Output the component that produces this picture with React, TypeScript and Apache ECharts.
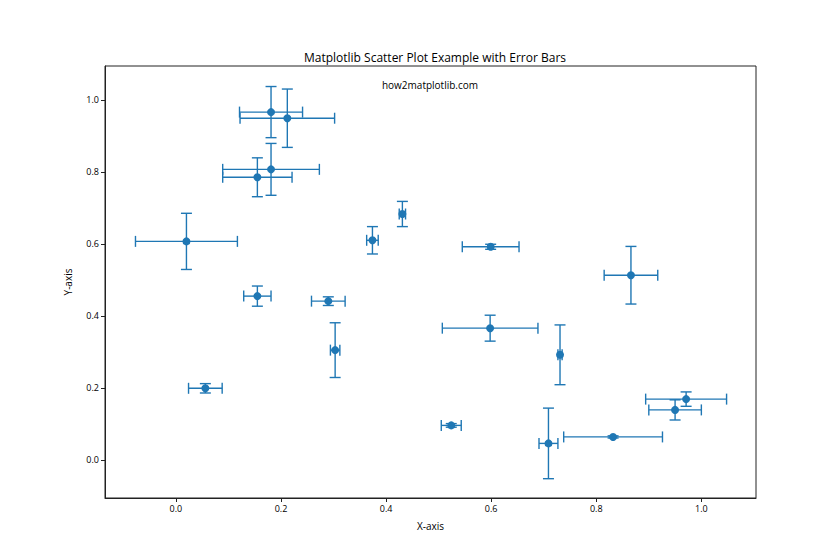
import React, { useEffect, useRef } from "react";
import * as echarts from "echarts";

const xValues = [0.181, 0.212, 0.181, 0.155, 0.020, 0.374, 0.431, 0.155, 0.290, 0.056, 0.303, 0.524, 0.599, 0.866, 0.598, 0.731, 0.971, 0.950, 0.832, 0.709];
const yValues = [0.966, 0.949, 0.807, 0.785, 0.607, 0.610, 0.683, 0.455, 0.441, 0.199, 0.305, 0.096, 0.592, 0.513, 0.366, 0.292, 0.169, 0.139, 0.064, 0.046];
const xErrors = [0.060, 0.090, 0.092, 0.066, 0.097, 0.011, 0.006, 0.026, 0.032, 0.032, 0.009, 0.019, 0.054, 0.051, 0.091, 0.004, 0.077, 0.050, 0.094, 0.018];
const yErrors = [0.071, 0.081, 0.072, 0.054, 0.078, 0.038, 0.035, 0.028, 0.012, 0.013, 0.076, 0.005, 0.007, 0.080, 0.036, 0.083, 0.020, 0.028, 0.003, 0.098];
const tickValues = [0, 0.2, 0.4, 0.6, 0.8, 1.0];

const COLOR = "#1f77b4";
const FONT = "'Open Sans', 'Noto Sans', sans-serif";

export default function App() {
  const ref = useRef<HTMLDivElement>(null);
  useEffect(() => {
    if (!ref.current) return;
    document.body.style.margin = "0";
    const chart = echarts.init(ref.current, null, { renderer: "svg" });
    const errData = xValues.map((x, i) => [x, yValues[i], xErrors[i], yErrors[i]]);
    const ptData = xValues.map((x, i) => [x, yValues[i]]);
    const cap = 5.5;
    const lineStyle = { stroke: COLOR, lineWidth: 1.4 };
    const axisCommon = {
      type: "value",
      nameLocation: "middle",
      nameTextStyle: { fontFamily: FONT, fontSize: 10, color: "#000" },
      splitLine: { show: false },
      axisLine: { show: true, onZero: false, lineStyle: { color: "#222", width: 1 } },
      axisTick: { show: true, inside: false, customValues: tickValues, length: 4, lineStyle: { color: "#222" } },
      axisLabel: {
        customValues: tickValues,
        formatter: (v: number) => v.toFixed(1),
        fontFamily: FONT,
        fontSize: 9,
        color: "#000",
        margin: 6,
      },
    };
    chart.setOption({
      animation: false,
      backgroundColor: "#fff",
      title: {
        text: "Matplotlib Scatter Plot Example with Error Bars",
        left: 430,
        top: 46,
        textAlign: "center",
        textStyle: { fontFamily: FONT, fontSize: 12, fontWeight: "normal", color: "#000" },
      },
      graphic: [
        {
          type: "text",
          x: 430,
          y: 85,
          style: {
            text: "how2matplotlib.com",
            fontFamily: FONT,
            fontSize: 10,
            fill: "#000",
            textAlign: "center",
            textVerticalAlign: "middle",
          },
        },
      ],
      grid: {
        left: 105,
        right: 84,
        top: 66,
        bottom: 62,
        show: true,
        borderColor: "#222",
        borderWidth: 1,
        backgroundColor: "transparent",
      },
      xAxis: {
        ...axisCommon,
        min: -0.135,
        max: 1.104,
        name: "X-axis",
        nameGap: 23,
      },
      yAxis: {
        ...axisCommon,
        min: -0.1056,
        max: 1.094,
        name: "Y-axis",
        nameGap: 32,
      },
      series: [
        {
          type: "custom",
          data: errData,
          encode: { x: 0, y: 1 },
          z: 2,
          renderItem: (params: any, api: any) => {
            const x = api.value(0);
            const y = api.value(1);
            const xe = api.value(2);
            const ye = api.value(3);
            const left = api.coord([x - xe, y]);
            const right = api.coord([x + xe, y]);
            const top = api.coord([x, y + ye]);
            const bottom = api.coord([x, y - ye]);
            const mk = (x1: number, y1: number, x2: number, y2: number) => ({
              type: "line",
              shape: { x1, y1, x2, y2 },
              style: lineStyle,
            });
            return {
              type: "group",
              children: [
                mk(left[0], left[1], right[0], right[1]),
                mk(top[0], top[1], bottom[0], bottom[1]),
                mk(left[0], left[1] - cap, left[0], left[1] + cap),
                mk(right[0], right[1] - cap, right[0], right[1] + cap),
                mk(top[0] - cap, top[1], top[0] + cap, top[1]),
                mk(bottom[0] - cap, bottom[1], bottom[0] + cap, bottom[1]),
              ],
            };
          },
        },
        {
          type: "scatter",
          data: ptData,
          symbol: "circle",
          symbolSize: 8,
          itemStyle: { color: COLOR, opacity: 1 },
          z: 3,
        },
      ],
    });
    return () => chart.dispose();
  }, []);
  return <div ref={ref} style={{ width: 840, height: 560 }} />;
}
